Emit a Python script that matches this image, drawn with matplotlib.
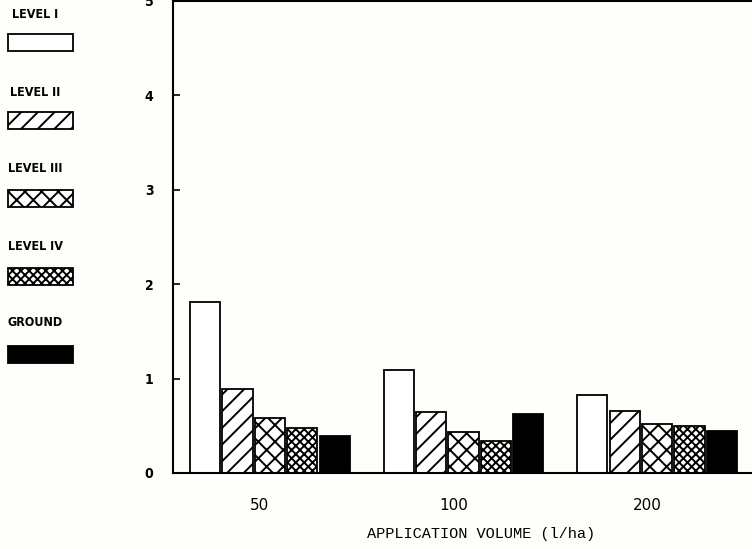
import numpy as np
from matplotlib import pyplot as plt
from matplotlib.patches import Rectangle
from matplotlib.transforms import ScaledTranslation

volumes = ['50', '100', '200']
levels = ['LEVEL I', 'LEVEL II', 'LEVEL III', 'LEVEL IV', 'GROUND']
level_i = [1.81, 1.09, 0.83]
level_ii = [0.89, 0.65, 0.66]
level_iii = [0.58, 0.43, 0.52]
level_iv = [0.48, 0.34, 0.50]
ground = [0.39, 0.62, 0.44]
y_ticks = [0, 1, 2, 3, 4, 5]
y_labels = ['0', '1', '2', '3', '4', '5']

series = [level_i, level_ii, level_iii, level_iv, ground]
hatches = ['', '//', 'xx', 'xxxx', '']
faces = ['white', 'white', 'white', 'white', 'black']

bg = '#fefefb'
plt.rcParams['hatch.linewidth'] = 1.4

fig = plt.figure(figsize=(7.52, 5.49), dpi=100, facecolor=bg)
ax = fig.add_axes([173/752, 76/549, 581/752, 472/549])
ax.set_facecolor(bg)

x = np.arange(len(volumes))
step = 0.167
width = 0.155
for i, vals in enumerate(series):
    ax.bar(x + (i - 2) * step, vals, width, color=faces[i], edgecolor='black',
           hatch=hatches[i], linewidth=1.3)

ax.set_xlim(-0.5, 2.5)
ax.set_ylim(0, 5)
ax.set_yticks(y_ticks)
ax.set_yticklabels(y_labels, fontsize=10, fontweight='bold', fontstretch='condensed')
ax.set_xticks(x)
ax.set_xticklabels(volumes, fontsize=11)
ax.tick_params(axis='y', direction='in', length=5, width=1.2, pad=14)
ax.tick_params(axis='x', length=0, pad=18)
for lab in ax.get_xticklabels():
    lab.set_transform(lab.get_transform() + ScaledTranslation(-0.1, 0, fig.dpi_scale_trans))
for s in ax.spines.values():
    s.set_linewidth(1.5)
ax.set_xlabel('APPLICATION VOLUME (l/ha)', fontsize=11, family='Liberation Mono')
ax.xaxis.set_label_coords(0.53, -0.115)

# legend column on the left
for i, name in enumerate(levels):
    ty = 1 - (15 + i * 77) / 549
    fig.text(35/752, ty, name, ha='center', va='center', fontsize=9,
             fontweight='bold', fontstretch='condensed')
    by = 1 - (51 + i * 78) / 549
    fig.patches.append(Rectangle((8/752, by), 65/752, 17/549, transform=fig.transFigure,
                                 facecolor=faces[i], edgecolor='black', hatch=hatches[i],
                                 linewidth=1.3, figure=fig))

fig.savefig('out.png', dpi=100, facecolor=bg)
